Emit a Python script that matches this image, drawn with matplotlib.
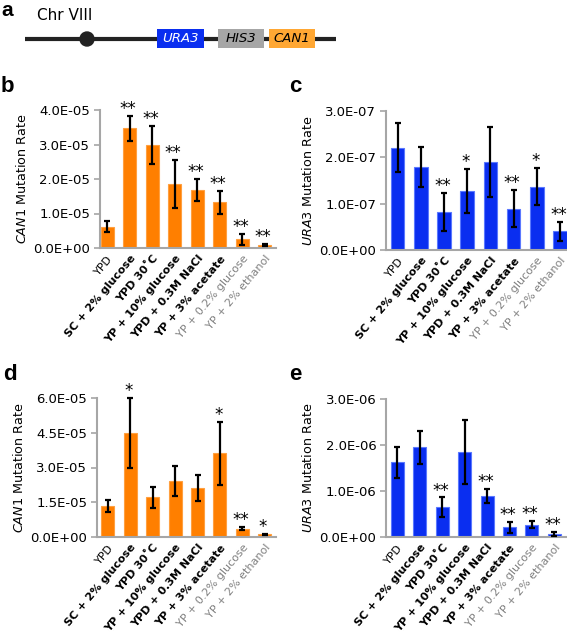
import matplotlib
matplotlib.use("Agg")
import matplotlib.pyplot as plt
from matplotlib.patches import Rectangle, Circle
from matplotlib.ticker import FixedLocator, FixedFormatter

plt.rcParams['font.family'] = ['DejaVu Sans']
plt.rcParams['mathtext.fontset'] = 'dejavusans'

categories = ["YPD", "SC + 2% glucose", "YPD 30˚C", "YP + 10% glucose",
              "YPD + 0.3M NaCl", "YP + 3% acetate", "YP + 0.2% glucose",
              "YP + 2% ethanol"]
label_weights = ["normal", "bold", "bold", "bold", "bold", "bold", "normal", "normal"]
label_colors = ["black", "black", "black", "black", "black", "black", "#808080", "#808080"]

b_vals = [6.2e-6, 3.47e-5, 2.99e-5, 1.86e-5, 1.69e-5, 1.32e-5, 2.6e-6, 8.7e-7]
b_err = [1.7e-6, 3.6e-6, 5.5e-6, 7.0e-6, 3.2e-6, 3.3e-6, 1.6e-6, 3.0e-7]
b_sig = ["", "**", "**", "**", "**", "**", "**", "**"]
b_ticks = [0, 1e-5, 2e-5, 3e-5, 4e-5]

c_vals = [2.21e-7, 1.79e-7, 0.82e-7, 1.27e-7, 1.90e-7, 0.89e-7, 1.37e-7, 0.40e-7]
c_err = [0.53e-7, 0.43e-7, 0.42e-7, 0.47e-7, 0.76e-7, 0.40e-7, 0.40e-7, 0.21e-7]
c_sig = ["", "", "**", "*", "", "**", "*", "**"]
c_ticks = [0, 1e-7, 2e-7, 3e-7]

d_vals = [1.34e-5, 4.50e-5, 1.71e-5, 2.43e-5, 2.10e-5, 3.61e-5, 0.36e-5, 0.115e-5]
d_err = [0.27e-5, 1.50e-5, 0.44e-5, 0.64e-5, 0.56e-5, 1.35e-5, 0.06e-5, 0.02e-5]
d_sig = ["", "*", "", "", "", "*", "**", "*"]
d_ticks = [0, 1.5e-5, 3.0e-5, 4.5e-5, 6.0e-5]

e_vals = [1.62e-6, 1.95e-6, 0.65e-6, 1.85e-6, 0.89e-6, 0.21e-6, 0.27e-6, 0.06e-6]
e_err = [0.34e-6, 0.36e-6, 0.21e-6, 0.69e-6, 0.16e-6, 0.12e-6, 0.075e-6, 0.045e-6]
e_sig = ["", "", "**", "", "**", "**", "**", "**"]
e_ticks = [0, 1e-6, 2e-6, 3e-6]

genes = ["URA3", "HIS3", "CAN1"]

ORANGE = "#FF7F00"
ORANGE_EDGE = "#FFA040"
BLUE = "#0A2EF0"
BLUE_EDGE = "#5A78FF"
SPINE = "#A6A6A6"

W, H = 567, 632
fig = plt.figure(figsize=(W / 100, H / 100), dpi=100)


def px_axes(x0, y0, x1, y1):
    return fig.add_axes([x0 / W, 1 - y1 / H, (x1 - x0) / W, (y1 - y0) / H])


def bar_panel(rect, vals, errs, sig, ticks, color, edge, gene, xlim):
    ax = px_axes(*rect)
    x = list(range(len(categories)))
    ax.bar(x, vals, width=0.58, color=color, edgecolor=edge, linewidth=0.8, zorder=2)
    ax.errorbar(x, vals, yerr=errs, fmt="none", ecolor="black", elinewidth=1.6,
                capsize=2.0, capthick=1.6, zorder=3, clip_on=False)
    for xi, v, e, s in zip(x, vals, errs, sig):
        if s:
            ax.annotate(s, (xi, v + e), xytext=(-1.2, -1.5), textcoords="offset points",
                        ha="center", va="bottom", fontsize=12, annotation_clip=False)
    ax.set_xlim(*xlim)
    ax.set_ylim(0, ticks[-1])
    ax.yaxis.set_major_locator(FixedLocator(ticks))
    ax.yaxis.set_major_formatter(FixedFormatter([f"{t:.1E}" for t in ticks]))
    ax.set_xticks(x)
    ax.set_xticklabels(categories, rotation=50, ha="right", va="top",
                       rotation_mode="anchor", fontsize=8.0)
    for lbl, w, c in zip(ax.get_xticklabels(), label_weights, label_colors):
        lbl.set_fontweight(w)
        lbl.set_color(c)
    ax.tick_params(axis="x", length=0, pad=4)
    ax.tick_params(axis="y", length=4, width=1.2, color=SPINE, labelsize=9.5, pad=3)
    for s in ("top", "right"):
        ax.spines[s].set_visible(False)
    for s in ("left", "bottom"):
        ax.spines[s].set_color(SPINE)
        ax.spines[s].set_linewidth(1.5)
    ax.set_ylabel(r"$\it{" + gene + r"}$ Mutation Rate", fontsize=9.2, labelpad=3)
    return ax


bar_panel((100, 110, 276, 248), b_vals, b_err, b_sig, b_ticks, ORANGE, ORANGE_EDGE, "CAN1", (-0.33, 7.5))
bar_panel((386, 111, 567, 250), c_vals, c_err, c_sig, c_ticks, BLUE, BLUE_EDGE, "URA3", (-0.5, 7.3))
bar_panel((97, 398, 276, 537), d_vals, d_err, d_sig, d_ticks, ORANGE, ORANGE_EDGE, "CAN1", (-0.49, 7.5))
bar_panel((386, 399, 567, 537), e_vals, e_err, e_sig, e_ticks, BLUE, BLUE_EDGE, "URA3", (-0.5, 7.56))

# Panel a: chromosome diagram (pixel coordinates)
axa = px_axes(0, 0, W, 60)
axa.set_xlim(0, W)
axa.set_ylim(60, 0)
axa.axis("off")
axa.plot([25, 336], [39, 39], color="#222222", linewidth=3, solid_capstyle="butt", zorder=1)
axa.add_patch(Circle((87, 39), 7, color="#222222", zorder=2))
box_x = [(157, 204), (218, 264), (269, 315)]
box_fc = ["#0A2EF0", "#A6A6A6", "#FFA733"]
box_tc = ["white", "black", "black"]
for (x0, x1), fc, tc, g in zip(box_x, box_fc, box_tc, genes):
    axa.add_patch(Rectangle((x0, 29), x1 - x0, 19, facecolor=fc, edgecolor="none", zorder=3))
    axa.text((x0 + x1) / 2, 39, g, ha="center", va="center", fontsize=9.5,
             style="italic", color=tc, zorder=4)
axa.text(37, 15, "Chr VIII", ha="left", va="center", fontsize=11)

# Panel letters
for letter, (lx, ly) in zip("abcde", [(1, 10), (1, 87), (289, 87), (3, 374), (289, 374)]):
    fig.text(lx / W, 1 - ly / H, letter, fontsize=15 if letter == "a" else 16,
             fontweight="bold", family="Liberation Sans", ha="left", va="center")

fig.savefig("out.png", dpi=100)
